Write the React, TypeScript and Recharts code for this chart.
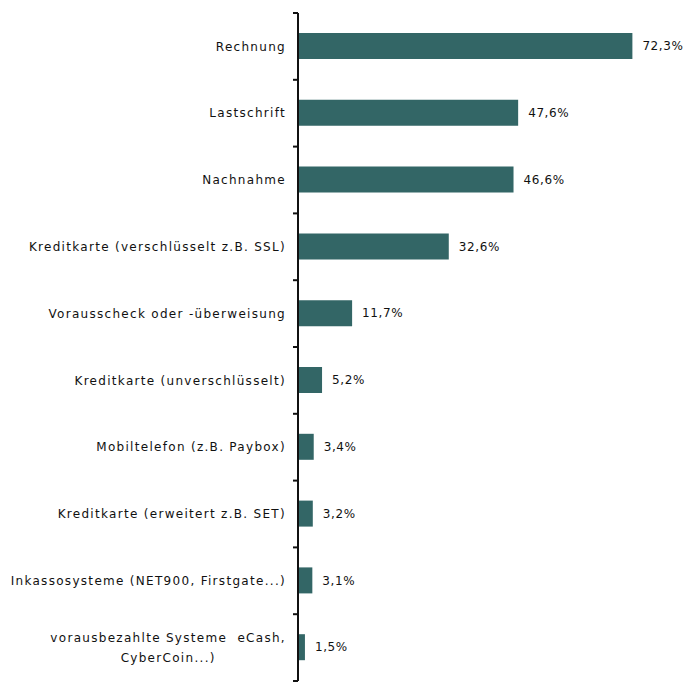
import React from "react";
import { BarChart, Bar, XAxis, YAxis, LabelList } from "recharts";

const categories = [
  "Rechnung",
  "Lastschrift",
  "Nachnahme",
  "Kreditkarte (verschlüsselt z.B. SSL)",
  "Vorausscheck oder -überweisung",
  "Kreditkarte (unverschlüsselt)",
  "Mobiltelefon (z.B. Paybox)",
  "Kreditkarte (erweitert z.B. SET)",
  "Inkassosysteme (NET900, Firstgate...)",
  "vorausbezahlte Systeme  eCash,\nCyberCoin...)",
];

const shares = [72.3, 47.6, 46.6, 32.6, 11.7, 5.2, 3.4, 3.2, 3.1, 1.5];

const data = categories.map((name, i) => ({ name, value: shares[i] }));

const FONT = "DejaVu Sans, sans-serif";
const FONT_SIZE = 12;
const SPACING = 1.3;
const BAR_COLOR = "#336666";
const INK = "#111";

const WIDTH = 687;
const HEIGHT = 682;
const MARGIN = { top: 13, right: 19, bottom: 1, left: 0 };
const BAND = (HEIGHT - MARGIN.top - MARGIN.bottom) / categories.length;

function measure(text: string): number {
  const c = document.createElement("canvas").getContext("2d");
  if (!c) return text.length * 8;
  c.font = `${FONT_SIZE}px ${FONT}`;
  return c.measureText(text).width + text.length * SPACING;
}

function CategoryTick(props: any) {
  const { x, y, payload, index } = props;
  const lines: string[] = String(payload.value).split("\n");
  const right = x - 12;
  const widest = Math.max(...lines.map(measure));
  const isLast = index === categories.length - 1;
  const textProps = {
    fill: INK,
    fontFamily: FONT,
    fontSize: FONT_SIZE,
    letterSpacing: SPACING,
    style: { whiteSpace: "pre" as const },
  };
  return (
    <g>
      <line x1={x - 5} x2={x} y1={y - BAND / 2} y2={y - BAND / 2} stroke={INK} strokeWidth={2} />
      {isLast && (
        <line x1={x - 5} x2={x} y1={y + BAND / 2} y2={y + BAND / 2} stroke={INK} strokeWidth={2} />
      )}
      {lines.length === 1 ? (
        <text x={right} y={y} dy="0.35em" textAnchor="end" {...textProps}>
          {lines[0]}
        </text>
      ) : (
        lines.map((l, i) => (
          <text
            key={i}
            x={right - widest / 2}
            y={y + (i - (lines.length - 1) / 2) * 20}
            dy="0.35em"
            textAnchor="middle"
            {...textProps}
          >
            {l}
          </text>
        ))
      )}
    </g>
  );
}

export default function App() {
  return (
    <div style={{ position: "absolute", left: 0, top: 0, background: "#fff" }}>
      <BarChart width={WIDTH} height={HEIGHT} data={data} layout="vertical" margin={MARGIN} barSize={26}>
        <XAxis type="number" domain={[0, 80]} hide />
        <YAxis
          type="category"
          dataKey="name"
          width={298}
          tickLine={false}
          tickSize={0}
          tickMargin={0}
          axisLine={{ stroke: INK, strokeWidth: 2 }}
          tick={<CategoryTick />}
          interval={0}
        />
        <Bar dataKey="value" fill={BAR_COLOR} isAnimationActive={false}>
          <LabelList
            dataKey="value"
            position="right"
            offset={10}
            formatter={(v: any) => `${String(v).replace(".", ",")}%`}
            fill={INK}
            fontFamily={FONT}
            fontSize={FONT_SIZE}
            letterSpacing={0.6}
          />
        </Bar>
      </BarChart>
    </div>
  );
}
